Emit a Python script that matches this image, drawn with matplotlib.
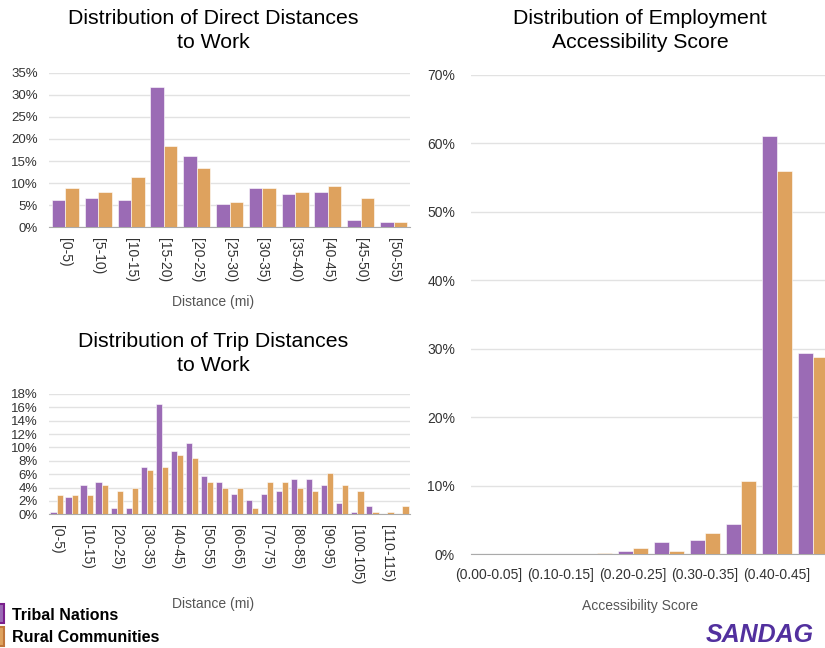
import numpy as np
import matplotlib
matplotlib.use("Agg")
import matplotlib.pyplot as plt
from matplotlib.patches import Rectangle
from matplotlib.ticker import FuncFormatter

plt.rcParams['font.family'] = ['Liberation Sans', 'DejaVu Sans']

purple = '#9b6bb5'
orange = '#dea25e'

# direct distance (top left)
direct_cats = ['[0-5)', '[5-10)', '[10-15)', '[15-20)', '[20-25)', '[25-30)',
               '[30-35)', '[35-40)', '[40-45)', '[45-50)', '[50-55)']
direct_tribal = [6.2, 6.6, 6.2, 31.8, 16.1, 5.3, 8.9, 7.5, 7.9, 1.7, 1.2]
direct_rural = [8.9, 7.9, 11.5, 18.3, 13.4, 5.7, 8.9, 7.9, 9.3, 6.6, 1.2]

# trip distance (bottom left)
trip_cats = ['[%d-%d)' % (a, a + 5) for a in range(0, 120, 5)]
trip_tribal = [0.4, 2.6, 4.4, 4.9, 0.9, 0.9, 7.1, 16.5, 9.4, 10.7, 5.8, 4.9,
               3.1, 2.2, 3.1, 3.5, 5.3, 5.3, 4.4, 1.7, 0.4, 1.3, 0.0, 0.0]
trip_rural = [2.9, 2.9, 2.9, 4.4, 3.5, 4.0, 6.6, 7.1, 8.9, 8.4, 4.9, 4.0,
              4.0, 0.9, 4.9, 4.9, 4.0, 3.5, 6.2, 4.4, 3.5, 0.4, 0.4, 1.3]

# accessibility score (right)
acc_cats = ['(0.00-0.05]', '(0.05-0.10]', '(0.10-0.15]', '(0.15-0.20]', '(0.20-0.25]',
            '(0.25-0.30]', '(0.30-0.35]', '(0.35-0.40]', '(0.40-0.45]', '(0.45-0.50]']
acc_tribal = [0.0, 0.0, 0.0, 0.05, 0.4, 1.7, 2.1, 4.4, 61.1, 29.3]
acc_rural = [0.0, 0.0, 0.0, 0.15, 0.85, 0.4, 3.05, 10.6, 56.0, 28.8]

W, H = 825, 648
fig = plt.figure(figsize=(W / 100, H / 100), dpi=100)


def rect(x0, x1, ytop, ybot):
    return [x0 / W, 1 - ybot / H, (x1 - x0) / W, (ybot - ytop) / H]


def bars(ax, cats, tribal, rural, step, ymax, ystep, pad, ysize):
    x = np.arange(len(cats))
    w = 0.41
    ax.bar(x - w / 2, tribal, w, color=purple, edgecolor='white', linewidth=0.4, zorder=3)
    ax.bar(x + w / 2, rural, w, color=orange, edgecolor='white', linewidth=0.4, zorder=3)
    ax.set_xlim(-0.5, len(cats) - 0.5)
    ax.set_ylim(0, ymax)
    ax.set_yticks(np.arange(0, ymax + 0.1, ystep))
    ax.yaxis.set_major_formatter(FuncFormatter(lambda v, p: '%d%%' % round(v)))
    ax.grid(axis='y', color='#e2e2e2', linewidth=1, zorder=0)
    ax.set_axisbelow(True)
    for s in ['top', 'right', 'left']:
        ax.spines[s].set_visible(False)
    ax.spines['bottom'].set_color('#aaaaaa')
    ax.tick_params(axis='both', length=0, labelsize=10, colors='#333333')
    ax.tick_params(axis='y', pad=pad, labelsize=ysize)
    ax.set_xticks(x[::step])
    ax.set_xticklabels(cats[::step])


ax1 = fig.add_axes(rect(49, 410, 72.7, 227.3))
bars(ax1, direct_cats, direct_tribal, direct_rural, 1, 35, 5, 8, 9.5)
for t in ax1.get_xticklabels():
    t.set_rotation(270)
ax1.tick_params(axis='x', pad=8)
ax1.set_xlabel('Distance (mi)', fontsize=10, color='#555555', labelpad=9)
ax1.xaxis.label.set_x((213 - 49) / 361)

ax2 = fig.add_axes(rect(49, 410, 394, 514.3))
bars(ax2, trip_cats, trip_tribal, trip_rural, 2, 18, 2, 8, 9.5)
for t in ax2.get_xticklabels():
    t.set_rotation(270)
ax2.tick_params(axis='x', pad=8)
ax2.set_xlabel('Distance (mi)', fontsize=10, color='#555555', labelpad=9)
ax2.xaxis.label.set_x((213 - 49) / 361)

ax3 = fig.add_axes(rect(471, 831, 74.7, 554))
bars(ax3, acc_cats, acc_tribal, acc_rural, 2, 70, 10, 11.5, 10)
ax3.tick_params(axis='x', pad=10)
ax3.set_xlabel('Accessibility Score', fontsize=10, color='#555555', labelpad=12)
ax3.xaxis.label.set_x((640 - 471) / 360)

title_kw = dict(ha='center', va='center', fontsize=15.3, linespacing=1.32)
fig.text(213 / W, 1 - 30.5 / H, 'Distribution of Direct Distances\nto Work', **title_kw)
fig.text(213 / W, 1 - 353.5 / H, 'Distribution of Trip Distances\nto Work', **title_kw)
fig.text(640 / W, 1 - 30.5 / H, 'Distribution of Employment\nAccessibility Score', **title_kw)

# legend
fig.patches.append(Rectangle((-2 / W, 1 - 623 / H), 6 / W, 19 / H, transform=fig.transFigure,
                             facecolor=purple, edgecolor='#7a1f8c', linewidth=1.5))
fig.patches.append(Rectangle((-2 / W, 1 - 646 / H), 6 / W, 19 / H, transform=fig.transFigure,
                             facecolor=orange, edgecolor='#c0763a', linewidth=1.5))
fig.text(12 / W, 1 - 615 / H, 'Tribal Nations', fontsize=11.5, fontweight='bold',
         va='center', ha='left')
fig.text(12 / W, 1 - 638 / H, 'Rural Communities', fontsize=11.5, fontweight='bold',
         va='center', ha='left')

fig.text(760 / W, 1 - 647 / H, 'SANDAG', fontsize=18, fontweight='bold', style='italic',
         color='#52309e', ha='center', va='bottom')

fig.savefig('out.png', dpi=100)
